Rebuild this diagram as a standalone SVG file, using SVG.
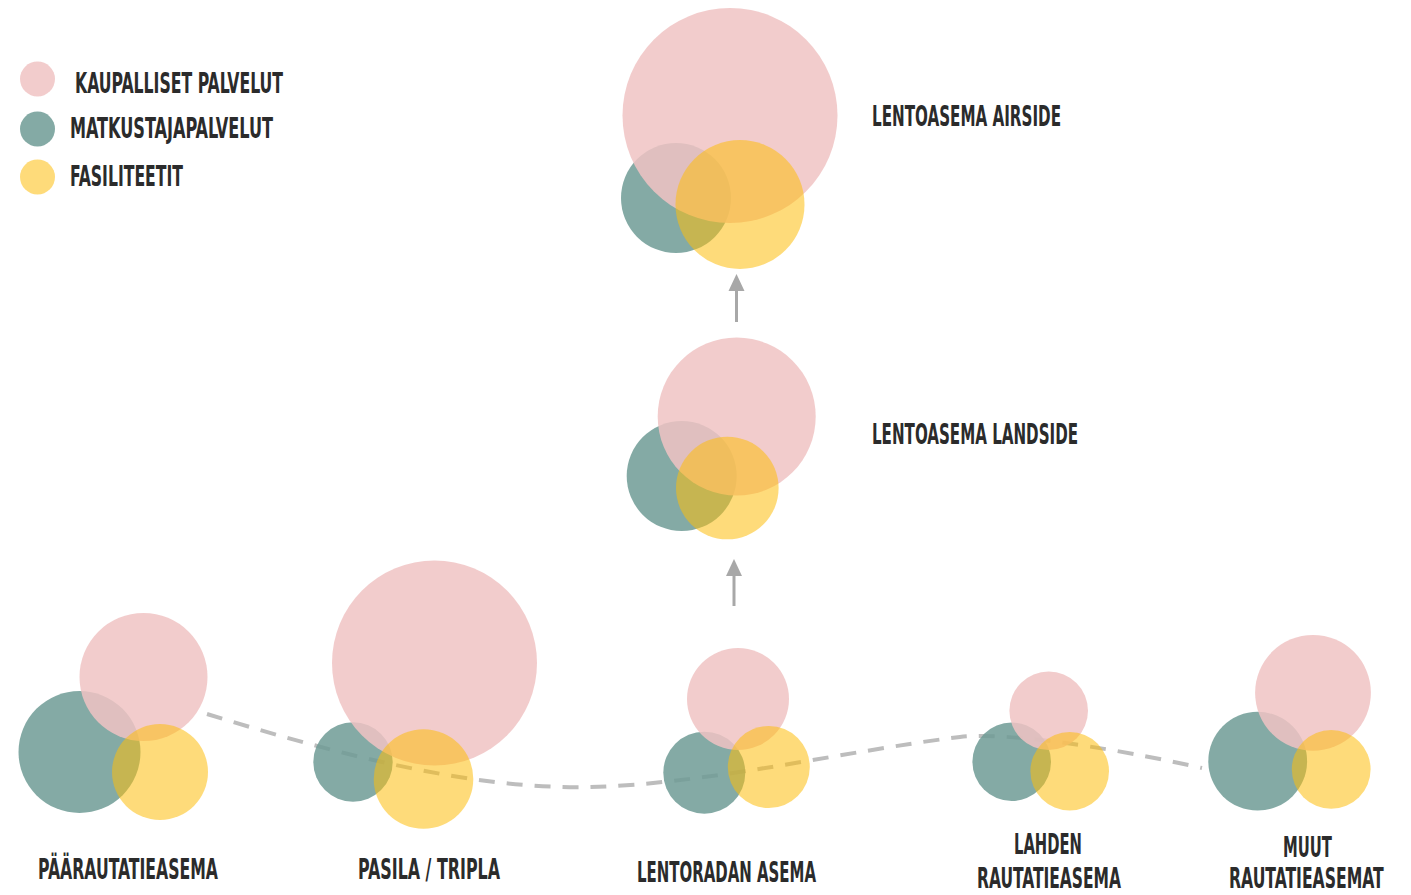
<svg xmlns="http://www.w3.org/2000/svg" width="1411" height="895" viewBox="0 0 1411 895">
<defs>
<style>
.p{fill:rgb(240,195,195);fill-opacity:0.85}
.t{fill:rgb(111,155,149);fill-opacity:0.85}
.y{fill:rgb(253,190,12);fill-opacity:0.55}
.lbl{font-family:"Liberation Sans Narrow","DejaVu Sans Condensed","Liberation Sans",sans-serif;font-weight:bold;font-size:28px;fill:#2b2b2b}
.dash{fill:none;stroke:#bdbdbd;stroke-width:4;stroke-dasharray:16 12}
.arr{stroke:#a8a8a8;stroke-width:3;fill:none}
</style>
<marker id="ah" markerUnits="userSpaceOnUse" markerWidth="18" markerHeight="18" viewBox="0 0 18 18" refX="1" refY="9" orient="auto">
<path d="M0,1 L17,9 L0,17 Z" fill="#a8a8a8"/>
</marker>
</defs>
<rect width="1411" height="895" fill="#ffffff"/>
<g id="connectors">
<path class="dash" d="M207,714 C330,752 470,790 590,787 C710,784 850,750 960,737 C1000,732 1100,745 1202,768"/>
<line class="arr" x1="736.5" y1="322" x2="736.5" y2="290" marker-end="url(#ah)"/>
<line class="arr" x1="734" y1="606" x2="734" y2="575" marker-end="url(#ah)"/>
</g>
<g id="legend">
<circle class="p" cx="37.5" cy="79" r="17.5"/>
<circle class="t" cx="37.5" cy="129" r="17.5"/>
<circle class="y" cx="37.5" cy="177" r="17.5"/>
<text class="lbl" x="75" y="93" textLength="208" lengthAdjust="spacingAndGlyphs">KAUPALLISET PALVELUT</text>
<text class="lbl" x="70" y="138" textLength="203" lengthAdjust="spacingAndGlyphs">MATKUSTAJAPALVELUT</text>
<text class="lbl" x="70" y="186" textLength="113" lengthAdjust="spacingAndGlyphs">FASILITEETIT</text>
</g>
<g id="airside">
<circle class="t" cx="676" cy="198" r="55"/>
<circle class="p" cx="730" cy="115.5" r="107.5"/>
<circle class="y" cx="740" cy="204.5" r="64.5"/>
<text class="lbl" x="872" y="126" textLength="189" lengthAdjust="spacingAndGlyphs">LENTOASEMA AIRSIDE</text>
</g>
<g id="landside">
<circle class="t" cx="681.7" cy="476" r="55"/>
<circle class="p" cx="736.7" cy="416.5" r="79"/>
<circle class="y" cx="727.3" cy="488" r="51.3"/>
<text class="lbl" x="872" y="444" textLength="206" lengthAdjust="spacingAndGlyphs">LENTOASEMA LANDSIDE</text>
</g>
<g id="paarautatieasema">
<circle class="t" cx="79.5" cy="752" r="61"/>
<circle class="p" cx="143.5" cy="677" r="64"/>
<circle class="y" cx="160" cy="772" r="48"/>
<text class="lbl" x="38" y="879" textLength="180" lengthAdjust="spacingAndGlyphs">PÄÄRAUTATIEASEMA</text>
</g>
<g id="pasila">
<circle class="t" cx="353" cy="762" r="39.7"/>
<circle class="p" cx="434.5" cy="663" r="102.5"/>
<circle class="y" cx="423.5" cy="779" r="49.8"/>
<text class="lbl" x="358" y="879" textLength="142" lengthAdjust="spacingAndGlyphs">PASILA / TRIPLA</text>
</g>
<g id="lentoradan-asema">
<circle class="t" cx="704.3" cy="772.7" r="41"/>
<circle class="p" cx="738" cy="699" r="51"/>
<circle class="y" cx="768.8" cy="767" r="41"/>
<text class="lbl" x="637" y="882" textLength="179" lengthAdjust="spacingAndGlyphs">LENTORADAN ASEMA</text>
</g>
<g id="lahden-rautatieasema">
<circle class="t" cx="1011.7" cy="761.7" r="39.3"/>
<circle class="p" cx="1048.7" cy="710.7" r="39.3"/>
<circle class="y" cx="1069.7" cy="771.3" r="39.3"/>
<text class="lbl" x="1014" y="854" textLength="68" lengthAdjust="spacingAndGlyphs">LAHDEN</text>
<text class="lbl" x="977" y="888" textLength="144" lengthAdjust="spacingAndGlyphs">RAUTATIEASEMA</text>
</g>
<g id="muut-rautatieasemat">
<circle class="t" cx="1257.7" cy="761.2" r="49.4"/>
<circle class="p" cx="1313" cy="692.8" r="57.9"/>
<circle class="y" cx="1331.2" cy="769.3" r="39.4"/>
<text class="lbl" x="1283" y="857" textLength="49" lengthAdjust="spacingAndGlyphs">MUUT</text>
<text class="lbl" transform="translate(1229,888) scale(0.7,1)" x="0" y="0" textLength="221" lengthAdjust="spacingAndGlyphs">RAUTATIEASEMAT</text>
</g>
</svg>
